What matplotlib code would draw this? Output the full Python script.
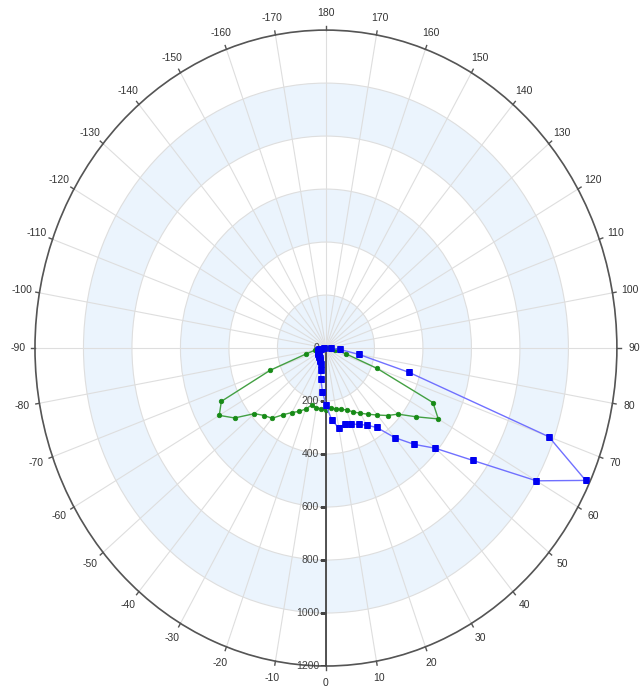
import numpy as np
import matplotlib.pyplot as plt

plt.rcParams['font.family'] = ['Liberation Sans', 'DejaVu Sans']

# angles in degrees, 0 at bottom, positive toward the right
angulos = list(range(-90, 95, 5))

verde = [10, 20, 45, 83, 244, 476, 508, 460, 385, 360, 346, 307, 281, 264,
         245, 222, 228, 230, 232, 226, 234, 240, 248, 266, 284, 305, 330,
         360, 388, 452, 535, 487, 224, 87, 40, 20, 10]

azul = [10, 20, 28, 33, 36, 38, 40, 40, 40, 42, 44, 46, 50, 55,
        65, 85, 120, 165, 215, 272, 307, 296, 305, 318, 336, 366, 441,
        514, 588, 739, 1002, 1182, 978, 356, 139, 58, 20]

raios = [0, 200, 400, 600, 800, 1000, 1200]
faixas = [0, 400, 800]  # inicio das faixas azuis (largura 200)

graus_ticks = list(range(0, 360, 10))
rotulos_ticks = [str(g if g <= 180 else g - 360) for g in graus_ticks]

fig = plt.figure(figsize=(6.43, 6.95), dpi=100)
ax = fig.add_axes([0.0544, 0.0417, 0.905, 0.915], projection='polar')
ax.set_aspect('auto')
ax.set_theta_zero_location('S')
ax.set_theta_direction(1)

# faixas de fundo
for inicio in faixas:
    ax.bar(0, 200, width=2 * np.pi, bottom=inicio, color='#ebf4fd',
           linewidth=0, zorder=0.2)

ax.set_ylim(0, 1200)
ax.set_yticks(raios)
ax.set_yticklabels([])
ax.set_xticks(np.deg2rad(graus_ticks))
ax.set_xticklabels(rotulos_ticks)
ax.set_axisbelow(True)
ax.grid(True, color='#dedede', linewidth=0.8)
ax.tick_params(axis='x', length=0, labelcolor='#333333', labelsize=7.5, pad=5.5)
ax.tick_params(axis='y', length=0)
ax.spines['polar'].set_color('#555555')
ax.spines['polar'].set_linewidth(1.2)

# tracinhos na borda
for g in graus_ticks:
    t = np.deg2rad(g)
    ax.plot([t, t], [1200, 1215], color='#555555', linewidth=1,
            clip_on=False, zorder=3)

# eixo radial em 0 graus
ax.plot([0, 0], [0, 1200], color='#444444', linewidth=1.3, zorder=3)
ax.plot(np.zeros(len(raios)), raios, marker=0, linestyle='none',
        markersize=4, color='#444444', zorder=3)
for r in raios:
    ax.annotate(str(r), xy=(0, r), xytext=(-5, 0), textcoords='offset points',
                ha='right', va='center', fontsize=7.5, color='#444444',
                zorder=4)

th = np.deg2rad(angulos)
ax.plot(th, verde, color='#43a043', linewidth=1, marker='o', markersize=3.3,
        markerfacecolor='#168a16', markeredgecolor='#168a16',
        markeredgewidth=0.5, zorder=5)
ax.plot(th, azul, color='#7070ff', linewidth=1, marker='s', markersize=4,
        markerfacecolor='#0000f0', markeredgecolor='#0000f0',
        markeredgewidth=0.5, zorder=6)

fig.savefig('out.png', dpi=100)
